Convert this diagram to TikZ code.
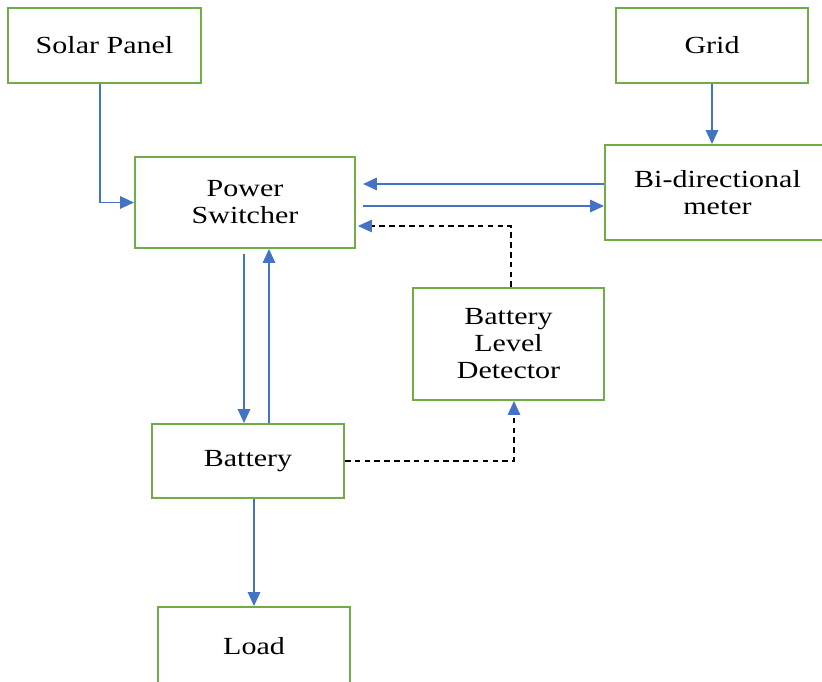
\documentclass[tikz,border=0pt]{standalone}
\usepackage{fontspec}
\setmainfont[FakeStretch=1.22]{Liberation Serif}
\usetikzlibrary{arrows.meta}
\definecolor{boxgreen}{RGB}{112,173,71}
\definecolor{flowblue}{RGB}{68,114,196}
\begin{document}
\begin{tikzpicture}[x=0.02cm, y=-0.02cm,
  block/.style={draw=boxgreen, line width=1.1pt, align=center, inner sep=0pt,
    font=\fontsize{14}{15.4}\selectfont},
  flow/.style={draw=flowblue, line width=0.95pt, -{Triangle[width=2.5mm, length=2.8mm]}},
  signal/.style={draw=black, line width=0.75pt, dash pattern=on 3.2pt off 2.4pt,
    -{Triangle[width=2.5mm, length=2.8mm, color=flowblue, fill=flowblue]}}]
\useasboundingbox (0,0) rectangle (822,682);

\node[block, minimum width=193*0.02cm, minimum height=75*0.02cm] (solar) at (104.5,45.5) {Solar Panel};

\node[block, minimum width=192*0.02cm, minimum height=75*0.02cm] (grid) at (712,45.5) {Grid};

\node[block, minimum width=220*0.02cm, minimum height=91*0.02cm] (switcher) at (245,202.5) {Power\\Switcher};

\node[block, minimum width=225*0.02cm, minimum height=95*0.02cm] (meter) at (717.5,192.5) {Bi-directional\\meter};

\node[block, minimum width=191*0.02cm, minimum height=112*0.02cm] (detector) at (508.5,344) {Battery\\Level\\Detector};

\node[block, minimum width=192*0.02cm, minimum height=74*0.02cm] (battery) at (248,461) {Battery};

\node[block, minimum width=192*0.02cm, minimum height=78*0.02cm] (load) at (254,646) {Load};

\draw[flow] ([xshift=-4.5*0.02cm]solar.south) |- (switcher.west);
\draw[flow] (grid.south) -- (grid.south |- meter.north);
\draw[flow] ([shift={(0,-8.5)}]meter.west) -- ([shift={(7,-18.5)}]switcher.east);
\draw[flow] ([shift={(7,3.5)}]switcher.east) -- ([shift={(0,13.5)}]meter.west);
\draw[signal] ([xshift=2.5*0.02cm]detector.north) |- ([shift={(2,23.5)}]switcher.east);
\draw[flow] ([shift={(-1,5)}]switcher.south) -- ([xshift=-4*0.02cm]battery.north);
\draw[flow] ([xshift=21*0.02cm]battery.north) -- ([xshift=24*0.02cm]switcher.south);
\draw[signal] (battery.east) -| ([xshift=5.5*0.02cm]detector.south);
\draw[flow] ([xshift=6*0.02cm]battery.south) -- (load.north);
\end{tikzpicture}
\end{document}
